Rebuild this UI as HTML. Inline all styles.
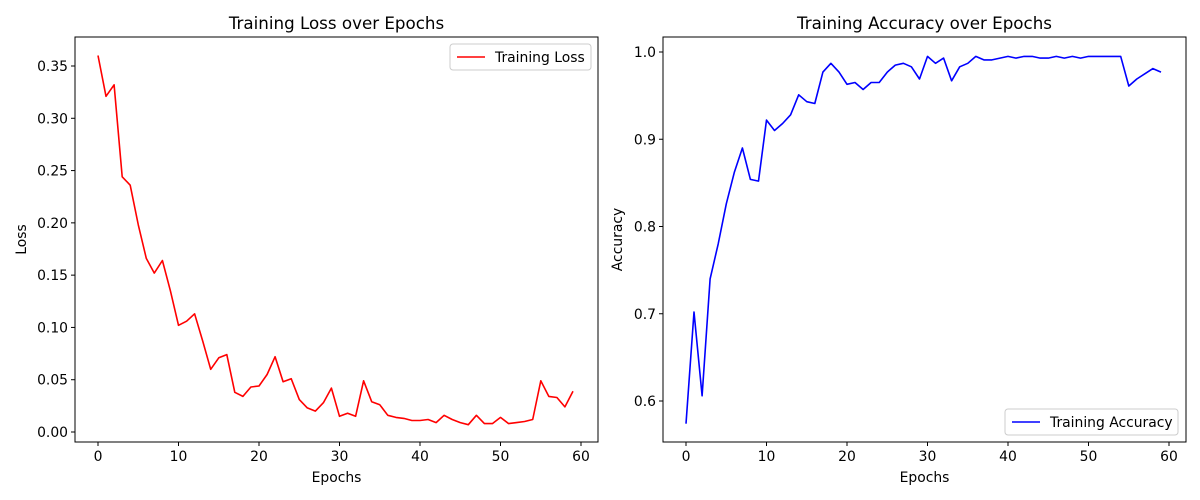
<!DOCTYPE html>
<html><head><meta charset="utf-8"><style>
body{margin:0;background:#fff;}
svg{display:block;font-family:"DejaVu Sans","Liberation Sans",sans-serif;}
</style></head><body>
<svg id="chart" width="1200" height="500" xmlns="http://www.w3.org/2000/svg"></svg>
<script>
const epochs = Array.from({length:60},(_,i)=>i);
const lossValues = [0.360,0.321,0.332,0.244,0.236,0.198,0.166,0.152,0.164,0.135,0.102,0.106,0.113,0.087,0.060,0.071,0.074,0.038,0.034,0.043,0.044,0.055,0.072,0.048,0.051,0.031,0.023,0.020,0.028,0.042,0.015,0.018,0.015,0.049,0.029,0.026,0.016,0.014,0.013,0.011,0.011,0.012,0.009,0.016,0.012,0.009,0.007,0.016,0.008,0.008,0.014,0.008,0.009,0.010,0.012,0.049,0.034,0.033,0.024,0.039];
const accValues = [0.574,0.702,0.606,0.740,0.780,0.826,0.862,0.890,0.854,0.852,0.922,0.910,0.918,0.928,0.951,0.943,0.941,0.977,0.987,0.977,0.963,0.965,0.957,0.965,0.965,0.977,0.985,0.987,0.983,0.969,0.995,0.987,0.993,0.967,0.983,0.987,0.995,0.991,0.991,0.993,0.995,0.993,0.995,0.995,0.993,0.993,0.995,0.993,0.995,0.993,0.995,0.995,0.995,0.995,0.995,0.961,0.969,0.975,0.981,0.977];
const xTicks = [0,10,20,30,40,50,60];
const lossTicks = [0.00,0.05,0.10,0.15,0.20,0.25,0.30,0.35];
const accTicks = [0.6,0.7,0.8,0.9,1.0];

const svg = document.getElementById('chart');
const NS = 'http://www.w3.org/2000/svg';
function mk(tag, attrs, parent){const e=document.createElementNS(NS,tag);for(const k in attrs)e.setAttribute(k,attrs[k]);(parent||svg).appendChild(e);return e;}

function panel(o){
  const g = mk('g',{});
  
  
  const {L,R,T,B} = o;
  const xs = v => o.x0 + (v-0)*(o.x60-o.x0)/60;
  const ys = v => o.yA + (v-o.vA)*(o.yB-o.yA)/(o.vB-o.vA);
  mk('rect',{x:L,y:T,width:R-L,height:B-T,fill:'none',stroke:'#000','stroke-width':1},g);
  xTicks.forEach(t=>{
    const x=xs(t);
    mk('line',{x1:x,x2:x,y1:B,y2:B+4,stroke:'#000'},g);
    const tx=mk('text',{x:x,y:B+19,'text-anchor':'middle','font-size':13.9},g);
    tx.textContent=t;
    
    
  });
  o.yTicks.forEach(t=>{
    const y=ys(t);
    mk('line',{x1:L-4,x2:L,y1:y,y2:y,stroke:'#000'},g);
    const tx=mk('text',{x:L-7,y:y+5,'text-anchor':'end','font-size':13.9},g);
    tx.textContent=t.toFixed(o.dec);
    
    
  });
  const pts = o.data.map((v,i)=>xs(epochs[i]).toFixed(1)+','+ys(v).toFixed(1)).join(' ');
  const line = mk('polyline',{points:pts,fill:'none',stroke:o.color,'stroke-width':1.6,'stroke-linejoin':'round'},g);
  
  
  const title=mk('text',{x:(L+R)/2,y:T-8,'text-anchor':'middle','font-size':16.7},g);
  title.textContent=o.title;
  
  
  const xl=mk('text',{x:(L+R)/2,y:B+40,'text-anchor':'middle','font-size':13.9},g);
  xl.textContent='Epochs';
  
  
  const yl=mk('text',{x:0,y:0,'text-anchor':'middle','font-size':13.9,transform:`translate(${o.ylX},${(T+B)/2}) rotate(-90)`},g);
  yl.textContent=o.ylabel;
  
  
  const lg=mk('g',{},g);
  
  
  mk('rect',{x:o.lgX,y:o.lgY,width:o.lgW,height:26,rx:3,fill:'#fff',stroke:'#ccc'},lg);
  mk('line',{x1:o.lgX+7,x2:o.lgX+35,y1:o.lgY+13,y2:o.lgY+13,stroke:o.color,'stroke-width':1.6},lg);
  const lt=mk('text',{x:o.lgX+45,y:o.lgY+18,'font-size':13.9},lg);
  lt.textContent=o.legend;
  
  
}

panel({name:'loss-chart',L:75,R:598,T:37,B:442,x0:98,x60:581,yA:432,vA:0,yB:66,vB:0.35,yTicks:lossTicks,dec:2,data:lossValues,color:'#ff0000',lineName:'loss-line',title:'Training Loss over Epochs',ylabel:'Loss',ylX:26,lgX:450,lgY:44,lgW:141,legend:'Training Loss'});
panel({name:'accuracy-chart',L:663,R:1186,T:37,B:442,x0:686,x60:1169,yA:401,vA:0.6,yB:52,vB:1.0,yTicks:accTicks,dec:1,data:accValues,color:'#0000ff',lineName:'accuracy-line',title:'Training Accuracy over Epochs',ylabel:'Accuracy',ylX:622,lgX:1005,lgY:409,lgW:173,legend:'Training Accuracy'});
</script>
</body></html>
